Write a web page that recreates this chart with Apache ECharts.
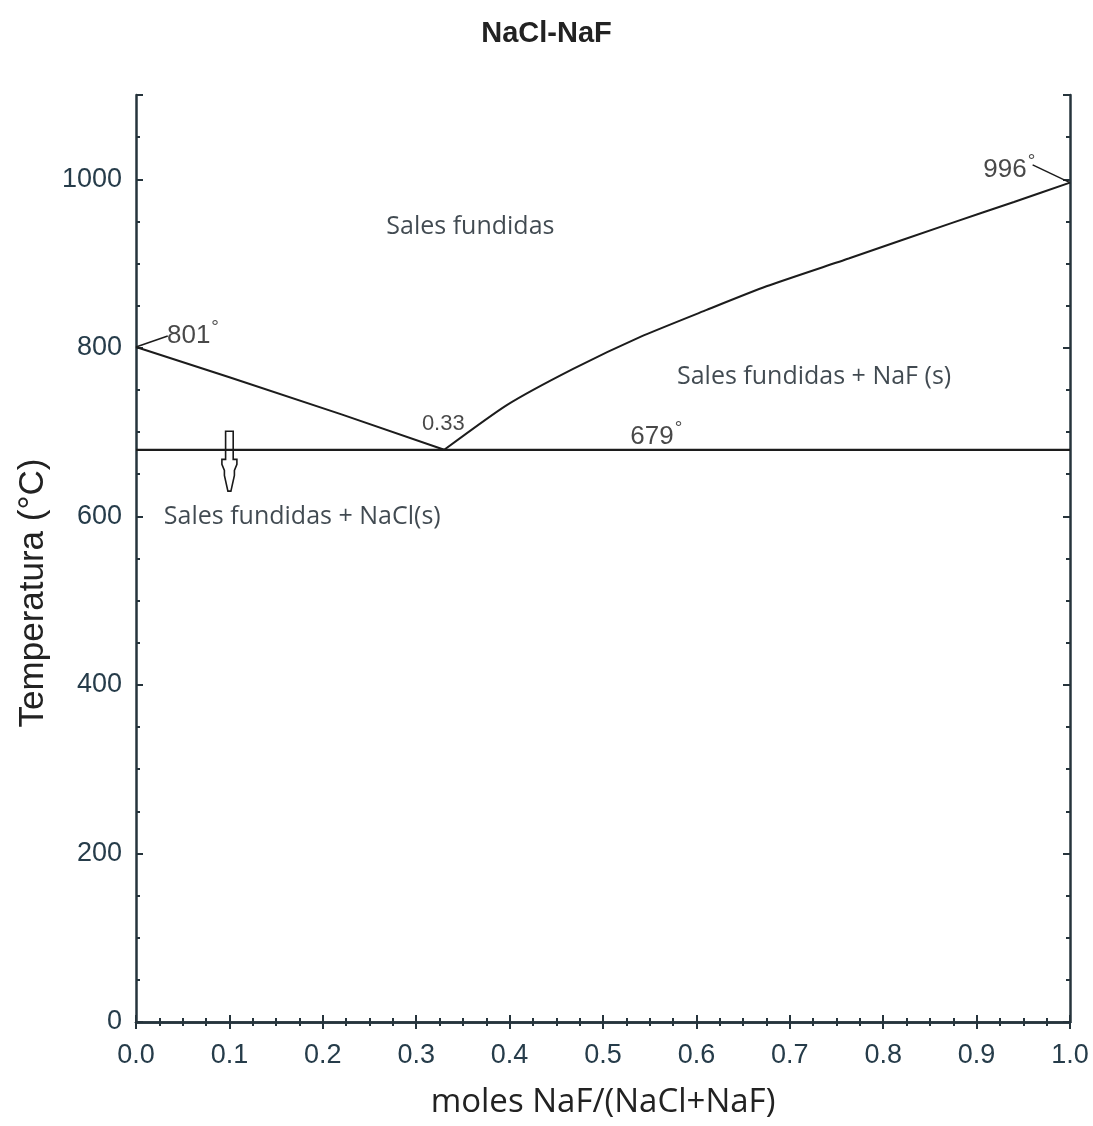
<!DOCTYPE html>
<html>
<head>
<meta charset="utf-8">
<title>NaCl-NaF</title>
<script src="https://cdn.jsdelivr.net/npm/echarts@6/dist/echarts.min.js"></script>
<style>
  html, body { margin: 0; padding: 0; background: #ffffff; }
  #chart { width: 1093px; height: 1126px; }
</style>
</head>
<body>
<div id="chart"></div>
<script>
// Phase diagram NaCl-NaF: liquidus branches, eutectic line and region labels
const xTicks = [0.0, 0.1, 0.2, 0.3, 0.4, 0.5, 0.6, 0.7, 0.8, 0.9, 1.0];
const yTicks = [0, 200, 400, 600, 800, 1000];

// Liquidus of NaCl side: from pure NaCl melting point down to the eutectic
const liquidusNaCl = [[0.0, 801], [0.1, 765], [0.22, 721], [0.33, 679]];
// Liquidus of NaF side: from the eutectic up to pure NaF melting point
const liquidusNaF = [
  [0.33, 679], [0.397, 732], [0.468, 775], [0.54, 813], [0.611, 845],
  [0.675, 873], [0.763, 906], [0.873, 948], [0.94, 973], [1.0, 996]
];
// Eutectic temperature line
const eutectic = [[0.0, 679], [1.0, 679]];
// Short leader lines to the melting point labels
const leader801 = [[0.0, 801], [0.034, 814]];
const leader996 = [[1.0, 996], [0.96, 1017]];
// Down arrow below the eutectic: [x, top, tip]
const arrowData = [[0.1, 701, 630]];

// Region names
const regionLabels = [
  { name: 'Sales fundidas', value: [0.358, 944] },
  { name: 'Sales fundidas + NaF (s)', value: [0.726, 766] },
  { name: 'Sales fundidas + NaCl(s)', value: [0.178, 599] }
];
// Temperatures and composition noted on the diagram
const pointLabels = [
  { num: '801', deg: true, value: [0.061, 814] },
  { num: '0.33', deg: false, value: [0.329, 710] },
  { num: '679', deg: true, value: [0.557, 694] },
  { num: '996', deg: true, value: [0.935, 1011] }
];

const axisColor = '#26343c';
const lineColor = '#1c1c1c';
const tickFont = '"Liberation Sans", Arial, sans-serif';
const noteFont = '"Open Sans", sans-serif';

const chart = echarts.init(document.getElementById('chart'), null, { renderer: 'canvas' });

const hiddenAxisBase = {
  axisLine: { show: false },
  axisLabel: { show: false },
  splitLine: { show: false }
};

const option = {
  backgroundColor: '#ffffff',
  animation: false,
  title: {
    text: 'NaCl-NaF',
    left: 'center',
    top: 14,
    textStyle: { fontFamily: '"Liberation Sans", Arial, sans-serif', fontWeight: 'bold', fontSize: 29, color: '#222222' }
  },
  // Vertical axis title, sitting a little below the plot middle
  graphic: [
    {
      type: 'text',
      x: 33, y: 593,
      rotation: Math.PI / 2,
      style: {
        text: 'Temperatura (°C)',
        fontFamily: '"Liberation Sans", Arial, sans-serif',
        fontSize: 35,
        fill: '#222222',
        align: 'center',
        verticalAlign: 'middle'
      }
    }
  ],
  grid: { left: 136, right: 23, top: 95, bottom: 104 },
  xAxis: [
    {
      type: 'value', min: 0, max: 1, interval: 0.1, position: 'bottom',
      axisLine: { show: true, lineStyle: { color: axisColor, width: 2.5 } },
      axisTick: { show: true, inside: true, length: 7, lineStyle: { color: axisColor, width: 2 } },
      minorTick: { show: true, splitNumber: 4, length: 4, lineStyle: { color: axisColor, width: 2 } },
      splitLine: { show: false },
      axisLabel: {
        margin: 20, fontFamily: tickFont, fontSize: 27, color: '#263c4a',
        formatter: v => xTicks.some(t => Math.abs(t - v) < 1e-9) ? v.toFixed(1) : ''
      },
      name: 'moles NaF/(NaCl+NaF)',
      nameLocation: 'middle',
      nameGap: 64,
      nameTextStyle: { fontFamily: noteFont, fontSize: 33, color: '#222222' }
    },
    {
      type: 'value', min: 0, max: 1, interval: 0.1, position: 'top',
      axisLine: { show: true, lineStyle: { color: axisColor, width: 2.5 } },
      axisTick: { show: true, inside: true, length: 7, lineStyle: { color: axisColor, width: 2 } },
      minorTick: { show: true, splitNumber: 4, length: 4, lineStyle: { color: axisColor, width: 2 } },
      splitLine: { show: false },
      axisLabel: { show: false }
    }
  ],
  yAxis: [
    {
      type: 'value', min: 0, max: 1100, interval: 200, position: 'left',
      axisLine: { show: true, lineStyle: { color: axisColor, width: 2.5 } },
      axisTick: { show: true, inside: true, length: 7, lineStyle: { color: axisColor, width: 2 } },
      splitLine: { show: false },
      axisLabel: {
        margin: 14, fontFamily: tickFont, fontSize: 27, color: '#263c4a',
        formatter: v => yTicks.indexOf(v) >= 0 ? String(v) : ''
      }
    },
    Object.assign({
      type: 'value', min: 0, max: 1100, interval: 50, position: 'left',
      axisTick: { show: true, inside: true, length: 4, lineStyle: { color: axisColor, width: 2 } }
    }, hiddenAxisBase),
    {
      type: 'value', min: 0, max: 1100, interval: 200, position: 'right',
      axisLine: { show: true, lineStyle: { color: axisColor, width: 2.5 } },
      axisTick: { show: true, inside: true, length: 7, lineStyle: { color: axisColor, width: 2 } },
      splitLine: { show: false },
      axisLabel: { show: false }
    },
    Object.assign({
      type: 'value', min: 0, max: 1100, interval: 50, position: 'right',
      axisTick: { show: true, inside: true, length: 4, lineStyle: { color: axisColor, width: 2 } }
    }, hiddenAxisBase)
  ],
  series: [
    {
      name: 'liquidus NaCl', type: 'line', data: liquidusNaCl, symbol: 'none',
      lineStyle: { color: lineColor, width: 2 }, z: 3
    },
    {
      name: 'liquidus NaF', type: 'line', data: liquidusNaF, symbol: 'none', smooth: 0.2,
      lineStyle: { color: lineColor, width: 2 }, z: 3
    },
    {
      name: 'eutectic', type: 'line', data: eutectic, symbol: 'none',
      lineStyle: { color: lineColor, width: 2.2 }, z: 3
    },
    {
      name: 'leader 801', type: 'line', data: leader801, symbol: 'none',
      lineStyle: { color: lineColor, width: 1.5 }, z: 3
    },
    {
      name: 'leader 996', type: 'line', data: leader996, symbol: 'none',
      lineStyle: { color: lineColor, width: 1.5 }, z: 3
    },
    {
      name: 'arrow', type: 'custom', data: arrowData, z: 4,
      renderItem: function (params, api) {
        const top = api.coord([api.value(0), api.value(1)]);
        const tip = api.coord([api.value(0), api.value(2)]);
        const cx = top[0];
        const len = tip[1] - top[1];
        const shaftEnd = top[1] + len * 0.47;
        const hw = 3.8, headW = 7.5;
        const pts = [
          [cx - hw, top[1]], [cx + hw, top[1]], [cx + hw, shaftEnd],
          [cx + headW, shaftEnd], [cx + headW, shaftEnd + 5],
          [cx + 5, shaftEnd + 11], [cx + 5, shaftEnd + 16],
          [cx + 1.5, tip[1]], [cx - 1.5, tip[1]],
          [cx - 5, shaftEnd + 16], [cx - 5, shaftEnd + 11],
          [cx - headW, shaftEnd + 5], [cx - headW, shaftEnd],
          [cx - hw, shaftEnd]
        ];
        return {
          type: 'polygon',
          shape: { points: pts },
          style: { fill: 'rgba(255,255,255,0)', stroke: '#1a1a1a', lineWidth: 1.6 }
        };
      }
    },
    {
      name: 'regions', type: 'scatter', data: regionLabels, symbolSize: 0, z: 5,
      label: {
        show: true, position: 'inside', formatter: p => p.name,
        fontFamily: noteFont, fontSize: 25, color: '#121d25'
      }
    },
    {
      name: 'points', type: 'scatter', data: pointLabels, symbolSize: 0, z: 5,
      label: {
        show: true, position: 'inside',
        formatter: p => p.data.deg ? '{n|' + p.data.num + '}{d|°}' : '{s|' + p.data.num + '}',
        rich: {
          n: { fontFamily: tickFont, fontSize: 26, color: '#1a1a1a' },
          s: { fontFamily: tickFont, fontSize: 22, color: '#1a1a1a' },
          d: { fontFamily: tickFont, fontSize: 19, color: '#1a1a1a', verticalAlign: 'top', padding: [0, 0, 16, 1] }
        }
      }
    }
  ]
};

chart.setOption(option);
</script>
</body>
</html>
